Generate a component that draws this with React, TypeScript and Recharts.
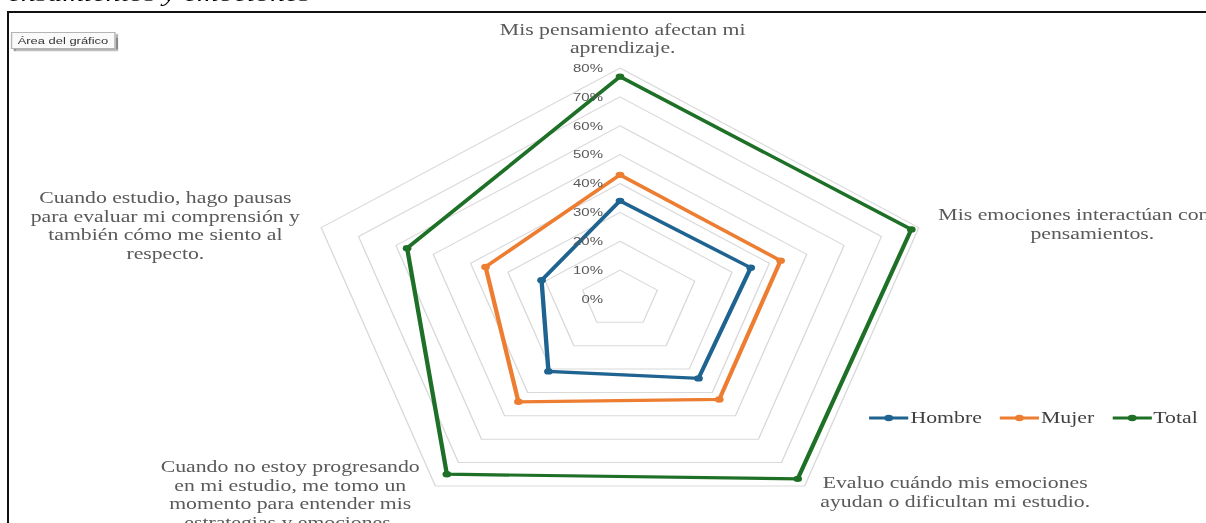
import React from 'react';
import { Legend, PolarAngleAxis, PolarGrid, PolarRadiusAxis, Radar, RadarChart } from 'recharts';

// Category labels, pre-broken into lines
const CATEGORY_LINES = [
  ['Mis pensamiento afectan mi', 'aprendizaje.'],
  ['Mis emociones interactúan con mis', 'pensamientos.'],
  ['Evaluo cuándo mis emociones', 'ayudan o dificultan mi estudio.'],
  ['Cuando no estoy progresando', 'en mi estudio, me tomo un', 'momento para entender mis', 'estrategias y emociones.'],
  ['Cuando estudio, hago pausas', 'para evaluar mi comprensión y', 'también cómo me siento al', 'respecto.'],
];
const CATEGORIES = CATEGORY_LINES.map((lines) => lines.join(' '));

// Percentages per category
const HOMBRE = [34, 35, 34, 31, 21];
const MUJER = [43, 43, 43, 44, 36];
const TOTAL = [77, 78, 77, 75, 57];

const RADIUS_TICKS = [0, 10, 20, 30, 40, 50, 60, 70, 80];

const SERIES = [
  { key: 'hombre', name: 'Hombre', color: '#1F6390' },
  { key: 'mujer', name: 'Mujer', color: '#ED7D31' },
  { key: 'total', name: 'Total', color: '#1E7027' },
];

const data = CATEGORIES.map((subject, i) => ({
  subject,
  hombre: HOMBRE[i],
  mujer: MUJER[i],
  total: TOTAL[i],
}));

// whole chart is drawn stretched horizontally
const SX = 1.36;
const W = 1206 / SX;
const H = 523;

const SERIF = '"Liberation Serif", "DejaVu Serif", serif';
const SANS = '"Liberation Sans", Arial, sans-serif';

// label block offsets relative to each angle tick point
const LABEL_OFFSETS = [
  { dx: 2, dy: -31 },
  { dx: 120, dy: -11 },
  { dx: 106, dy: -10 },
  { dx: -102, dy: -26 },
  { dx: -107, dy: -28 },
];
const LINE_H = 18.5;

function AngleTick(props: any) {
  const { x, y, payload } = props;
  const idx = CATEGORIES.indexOf(payload.value);
  const lines = CATEGORY_LINES[idx] || [];
  const off = LABEL_OFFSETS[idx] || { dx: 0, dy: 0 };
  return (
    <text
      x={x + off.dx}
      y={y + off.dy}
      textAnchor="middle"
      dominantBaseline="central"
      fill="#595959"
      fontFamily={SERIF}
      fontSize={16}
    >
      {lines.map((line, i) => (
        <tspan key={i} x={x + off.dx} y={y + off.dy + i * LINE_H}>
          {line}
        </tspan>
      ))}
    </text>
  );
}

function RadiusTick(props: any) {
  const { x, y, payload } = props;
  return (
    <text x={x - 12.5} y={y} textAnchor="end" dominantBaseline="central" fill="#595959" fontFamily={SANS} fontSize={11}>
      {payload.value}%
    </text>
  );
}

const makeDot = (color: string) => (p: any) => (
  <circle key={`${color}-${p.index}`} cx={p.cx} cy={p.cy} r={3.2} fill={color} stroke="none" />
);

function LegendContent() {
  return (
    <div style={{ display: 'flex', alignItems: 'center', gap: 13, fontFamily: SERIF, fontSize: 16, color: '#404040' }}>
      {SERIES.map((s) => (
        <div key={s.key} style={{ display: 'flex', alignItems: 'center', gap: 1.5 }}>
          <svg width={29} height={10}>
            <line x1={0} y1={5} x2={29} y2={5} stroke={s.color} strokeWidth={3} />
            <circle cx={14.5} cy={5} r={3.2} fill={s.color} />
          </svg>
          <span>{s.name}</span>
        </div>
      ))}
    </div>
  );
}

export default function App() {
  return (
    <div style={{ position: 'fixed', left: 0, top: 0, width: 1206, height: 523, overflow: 'hidden', background: '#fff' }}>
      {/* chart area frame */}
      <div style={{ position: 'absolute', left: 7, top: 11, width: 1400, height: 700, border: '2px solid #111' }} />
      <div
        style={{
          position: 'absolute',
          left: 0,
          top: 0,
          width: W,
          height: H,
          transform: `scaleX(${SX})`,
          transformOrigin: '0 0',
        }}
      >
        <div
          style={{
            position: 'absolute',
            right: W - 228,
            top: -19,
            fontFamily: SERIF,
            fontStyle: 'italic',
            fontSize: 22,
            color: '#000',
            whiteSpace: 'nowrap',
          }}
        >
          Pensamientos y emociones
        </div>
        <div
          style={{
            position: 'absolute',
            left: 8,
            top: 32,
            height: 15,
            padding: '0 4px',
            fontFamily: SANS,
            fontSize: 9.5,
            lineHeight: '15px',
            color: '#333',
            background: '#fafafa',
            border: '1px solid #b5b5b5',
            boxShadow: '2px 2px 1px #888',
            whiteSpace: 'nowrap',
            zIndex: 2,
          }}
        >
          Área del gráfico
        </div>
        <RadarChart width={W} height={H} data={data} cx={620 / SX} cy={299} outerRadius={231} margin={{ top: 0, right: 0, bottom: 0, left: 0 }}>
          <PolarGrid radialLines={false} stroke="#D9D9D9" strokeWidth={1} />
          <PolarAngleAxis dataKey="subject" tick={<AngleTick />} tickLine={false} axisLine={false} />
          <PolarRadiusAxis
            angle={90}
            domain={[0, 80]}
            ticks={RADIUS_TICKS}
            tickCount={9}
            axisLine={false}
            tickLine={false}
            tick={<RadiusTick />}
          />
          {SERIES.map((s) => (
            <Radar
              key={s.key}
              name={s.name}
              dataKey={s.key}
              stroke={s.color}
              strokeWidth={3.2}
              fill="none"
              fillOpacity={0}
              dot={makeDot(s.color)}
              isAnimationActive={false}
            />
          ))}
          <Legend
            verticalAlign="top"
            align="left"
            content={<LegendContent />}
            wrapperStyle={{ left: 639, top: 409, width: 240, height: 22 }}
          />
        </RadarChart>
      </div>
    </div>
  );
}
